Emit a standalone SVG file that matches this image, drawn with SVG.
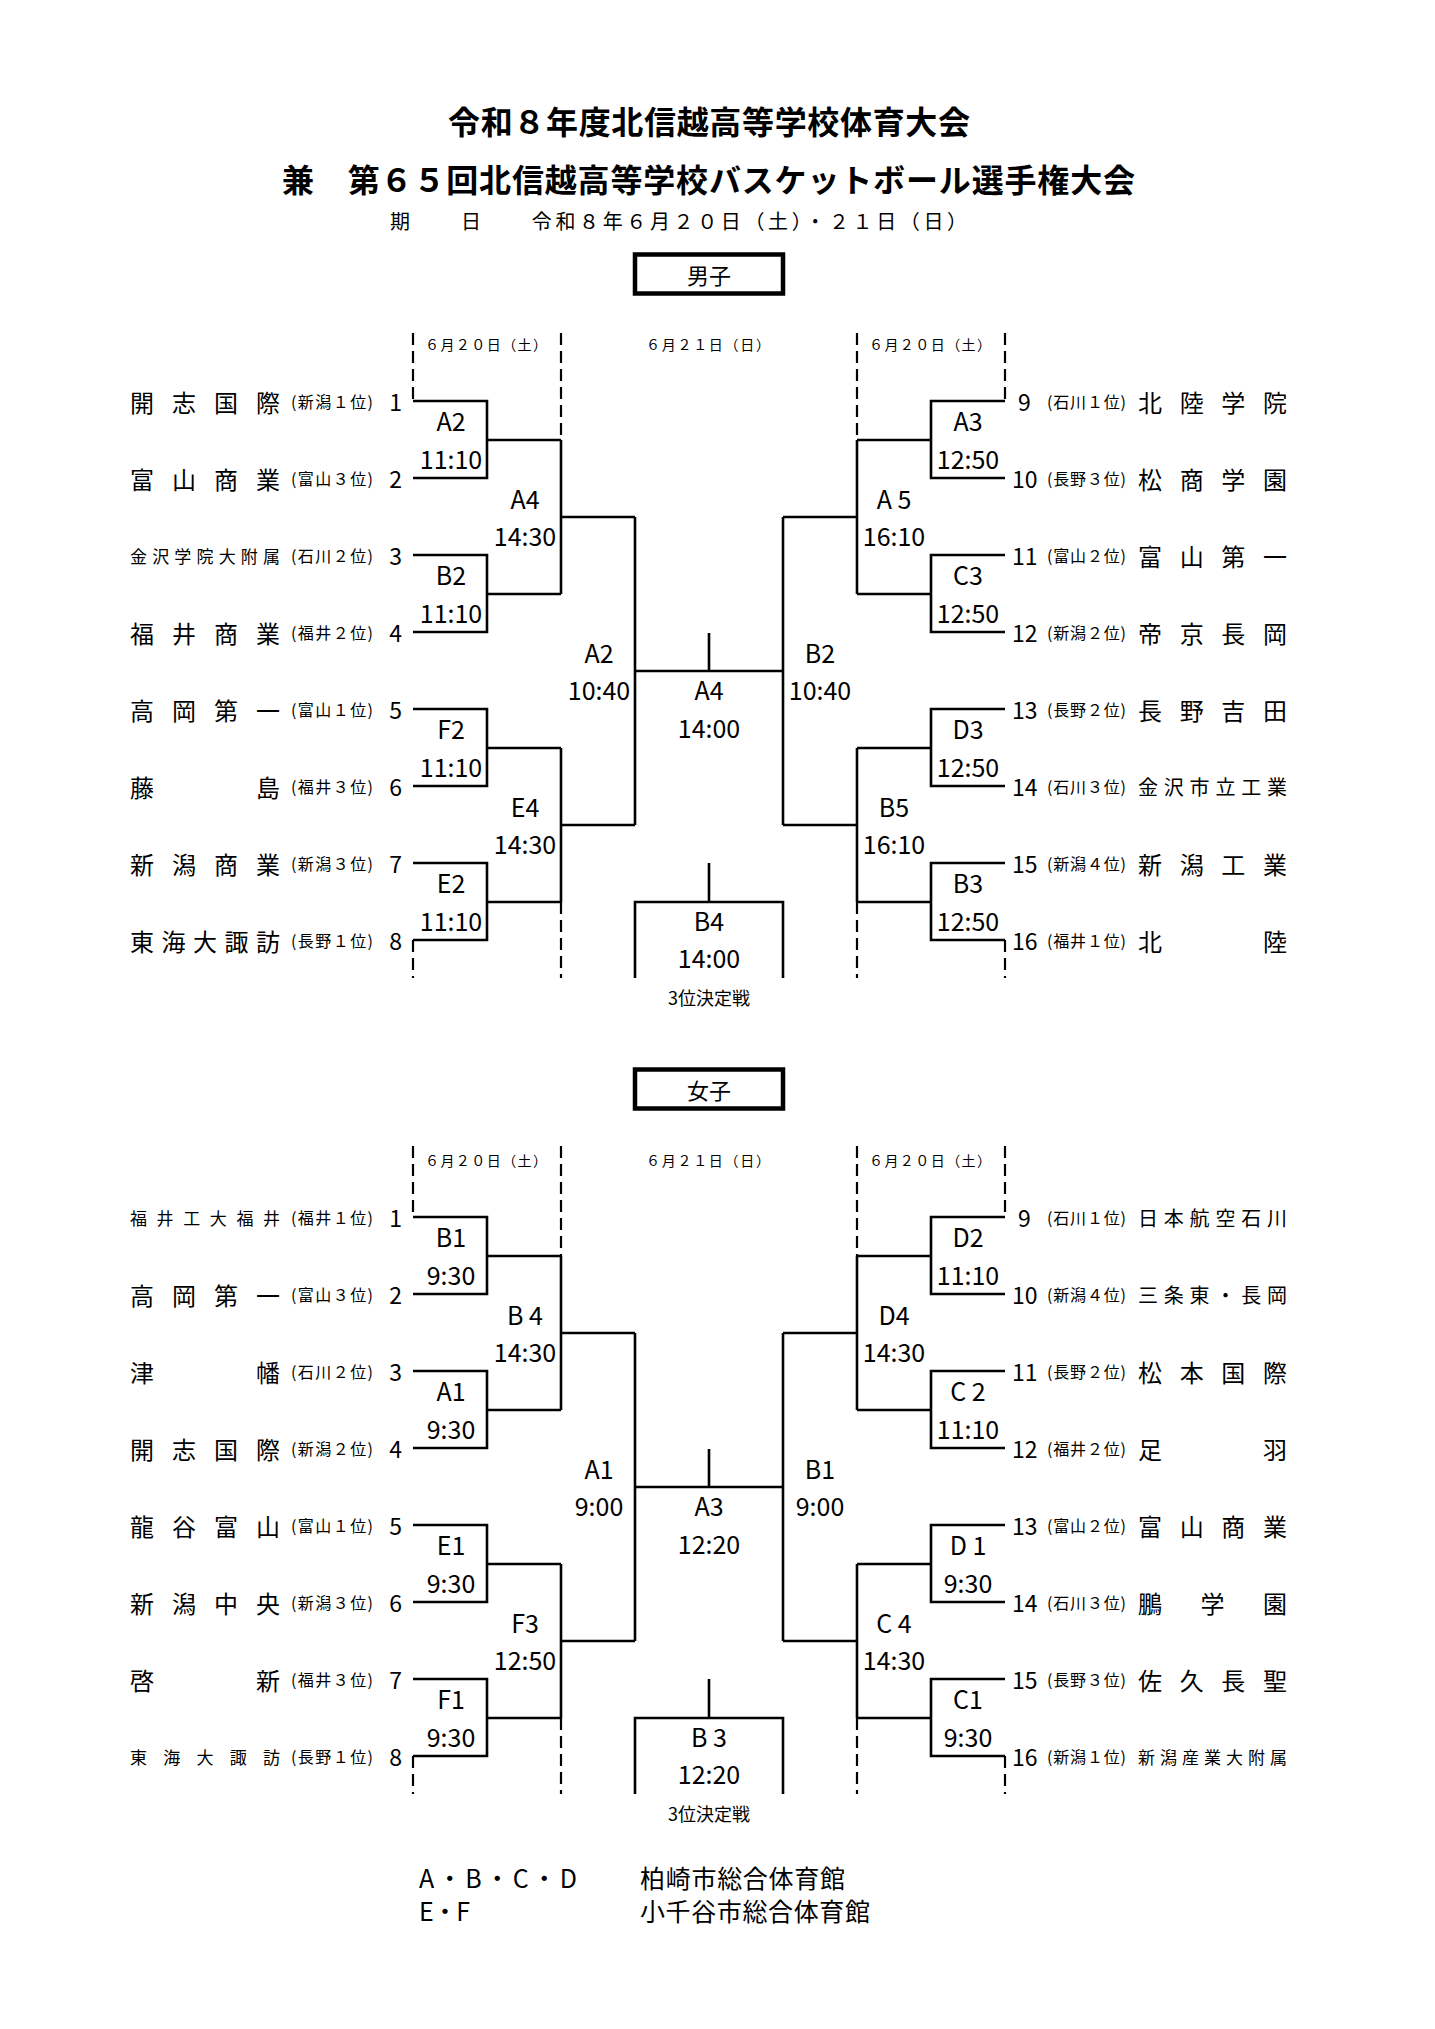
<svg xmlns="http://www.w3.org/2000/svg" width="1435" height="2029" viewBox="0 0 1435 2029">
<style>
text{font-family:"Noto Sans CJK JP","Noto Sans CJK SC",sans-serif;fill:#000;dominant-baseline:central}
.ttl{font-size:32px;font-weight:700}
.sub{font-size:20px}
.nm{font-size:24px}
.sn{font-size:17px}
.mn{font-size:20px}
.sd{font-size:16px}
.nl{font-size:23px;text-anchor:end}
.nr{font-size:23px}
.lb{font-size:25px;text-anchor:middle}
.dt{font-size:14px}
.sx{font-size:22px;text-anchor:middle}
.tp{font-size:18px;text-anchor:middle}
.ft{font-size:25px}
.ln{stroke:#000;stroke-width:2.6;fill:none}
.ds{stroke:#000;stroke-width:2.2;fill:none;stroke-dasharray:12 6}
.bx{stroke:#000;stroke-width:4.5;fill:none}
</style>
<rect width="1435" height="2029" fill="#fff"/>
<g id="header">
<text class="ttl" x="448" y="120" textLength="522" lengthAdjust="spacing">令和８年度北信越高等学校体育大会</text>
<text class="ttl" x="282" y="178" textLength="853" lengthAdjust="spacing">兼　第６５回北信越高等学校バスケットボール選手権大会</text>
<text class="sub" x="390" y="220" textLength="577" lengthAdjust="spacing">期　　日　　令和８年６月２０日（土）・２１日（日）</text>
</g>
<g id="men-box"><rect class="bx" x="635" y="254.5" width="148" height="39"/><text class="sx" x="709" y="274">男子</text></g>
<g id="women-box"><rect class="bx" x="635" y="1069.5" width="148" height="39"/><text class="sx" x="709" y="1089">女子</text></g>

<g id="connectors">
<path class="ds" d="M413,333V401M561,333V440M857,333V440M1005,333V401M413,940V978M561,902V978M857,902V978M1005,940V978"/>
<path class="ln" d="M413,401H487V478H413M487,440H561M413,555H487V632H413M487,594H561M561,440V594M561,517H635"/>
<path class="ln" d="M413,709H487V786H413M487,748H561M413,863H487V940H413M487,902H561M561,748V902M561,825H635"/>
<path class="ln" d="M635,517V825M783,517V825M635,671H783M709,633V671M635,978V902H783V978M709,863V902"/>
<path class="ln" d="M1005,401H931V478H1005M931,440H857M1005,555H931V632H1005M931,594H857M857,440V594M857,517H783"/>
<path class="ln" d="M1005,709H931V786H1005M931,748H857M1005,863H931V940H1005M931,902H857M857,748V902M857,825H783"/>
<g transform="translate(0,816)">
<path class="ds" d="M413,330V401M561,330V440M857,330V440M1005,330V401M413,940V978M561,902V978M857,902V978M1005,940V978"/>
<path class="ln" d="M413,401H487V478H413M487,440H561M413,555H487V632H413M487,594H561M561,440V594M561,517H635"/>
<path class="ln" d="M413,709H487V786H413M487,748H561M413,863H487V940H413M487,902H561M561,748V902M561,825H635"/>
<path class="ln" d="M635,517V825M783,517V825M635,671H783M709,633V671M635,978V902H783V978M709,863V902"/>
<path class="ln" d="M1005,401H931V478H1005M931,440H857M1005,555H931V632H1005M931,594H857M857,440V594M857,517H783"/>
<path class="ln" d="M1005,709H931V786H1005M931,748H857M1005,863H931V940H1005M931,902H857M857,748V902M857,825H783"/>
</g>
</g>

<g id="men-dates">
<text class="dt" x="425" y="344" textLength="122">６月２０日（土）</text>
<text class="dt" x="646" y="344" textLength="124">６月２１日（日）</text>
<text class="dt" x="869" y="344" textLength="122">６月２０日（土）</text>
</g>
<g id="women-dates">
<text class="dt" x="425" y="1160" textLength="122">６月２０日（土）</text>
<text class="dt" x="646" y="1160" textLength="124">６月２１日（日）</text>
<text class="dt" x="869" y="1160" textLength="122">６月２０日（土）</text>
</g>

<g id="m-t1"><text class="nm" x="130 172 214 256" y="401">開志国際</text><text class="sd" x="291" y="401" textLength="82">(新潟１位)</text><text class="nl" x="402" y="401">1</text></g>
<g id="m-t2"><text class="nm" x="130 172 214 256" y="478">富山商業</text><text class="sd" x="291" y="478" textLength="82">(富山３位)</text><text class="nl" x="402" y="478">2</text></g>
<g id="m-t3"><text class="sn" x="130 152.2 174.3 196.5 218.7 240.8 263" y="555">金沢学院大附属</text><text class="sd" x="291" y="555" textLength="82">(石川２位)</text><text class="nl" x="402" y="555">3</text></g>
<g id="m-t4"><text class="nm" x="130 172 214 256" y="632">福井商業</text><text class="sd" x="291" y="632" textLength="82">(福井２位)</text><text class="nl" x="402" y="632">4</text></g>
<g id="m-t5"><text class="nm" x="130 172 214 256" y="709">高岡第一</text><text class="sd" x="291" y="709" textLength="82">(富山１位)</text><text class="nl" x="402" y="709">5</text></g>
<g id="m-t6"><text class="nm" x="130 256" y="786">藤島</text><text class="sd" x="291" y="786" textLength="82">(福井３位)</text><text class="nl" x="402" y="786">6</text></g>
<g id="m-t7"><text class="nm" x="130 172 214 256" y="863">新潟商業</text><text class="sd" x="291" y="863" textLength="82">(新潟３位)</text><text class="nl" x="402" y="863">7</text></g>
<g id="m-t8"><text class="nm" x="130 161.5 193 224.5 256" y="940">東海大諏訪</text><text class="sd" x="291" y="940" textLength="82">(長野１位)</text><text class="nl" x="402" y="940">8</text></g>
<g id="m-t9"><text class="nr" x="1018" y="401">9</text><text class="sd" x="1047" y="401" textLength="79">(石川１位)</text><text class="nm" x="1138 1179.7 1221.3 1263" y="401">北陸学院</text></g>
<g id="m-t10"><text class="nr" x="1012" y="478">10</text><text class="sd" x="1047" y="478" textLength="79">(長野３位)</text><text class="nm" x="1138 1179.7 1221.3 1263" y="478">松商学園</text></g>
<g id="m-t11"><text class="nr" x="1012" y="555">11</text><text class="sd" x="1047" y="555" textLength="79">(富山２位)</text><text class="nm" x="1138 1179.7 1221.3 1263" y="555">富山第一</text></g>
<g id="m-t12"><text class="nr" x="1012" y="632">12</text><text class="sd" x="1047" y="632" textLength="79">(新潟２位)</text><text class="nm" x="1138 1179.7 1221.3 1263" y="632">帝京長岡</text></g>
<g id="m-t13"><text class="nr" x="1012" y="709">13</text><text class="sd" x="1047" y="709" textLength="79">(長野２位)</text><text class="nm" x="1138 1179.7 1221.3 1263" y="709">長野吉田</text></g>
<g id="m-t14"><text class="nr" x="1012" y="786">14</text><text class="sd" x="1047" y="786" textLength="79">(石川３位)</text><text class="mn" x="1138 1163.8 1189.6 1215.4 1241.2 1267" y="786">金沢市立工業</text></g>
<g id="m-t15"><text class="nr" x="1012" y="863">15</text><text class="sd" x="1047" y="863" textLength="79">(新潟４位)</text><text class="nm" x="1138 1179.7 1221.3 1263" y="863">新潟工業</text></g>
<g id="m-t16"><text class="nr" x="1012" y="940">16</text><text class="sd" x="1047" y="940" textLength="79">(福井１位)</text><text class="nm" x="1138 1263" y="940">北陸</text></g>

<g id="m-A2r1"><text class="lb" x="451" y="420">A2</text><text class="lb" x="451" y="458">11:10</text></g>
<g id="m-B2r1"><text class="lb" x="451" y="574">B2</text><text class="lb" x="451" y="612">11:10</text></g>
<g id="m-F2"><text class="lb" x="451" y="728">F2</text><text class="lb" x="451" y="766">11:10</text></g>
<g id="m-E2"><text class="lb" x="451" y="882">E2</text><text class="lb" x="451" y="920">11:10</text></g>
<g id="m-A4r2"><text class="lb" x="525" y="498">A4</text><text class="lb" x="525" y="535">14:30</text></g>
<g id="m-E4"><text class="lb" x="525" y="806">E4</text><text class="lb" x="525" y="843">14:30</text></g>
<g id="m-A2sf"><text class="lb" x="599" y="652">A2</text><text class="lb" x="599" y="689">10:40</text></g>
<g id="m-B2sf"><text class="lb" x="820" y="652">B2</text><text class="lb" x="820" y="689">10:40</text></g>
<g id="m-A4f"><text class="lb" x="709" y="689">A4</text><text class="lb" x="709" y="727">14:00</text></g>
<g id="m-B4"><text class="lb" x="709" y="920">B4</text><text class="lb" x="709" y="957">14:00</text><text class="tp" x="709" y="997">3位決定戦</text></g>
<g id="m-A3"><text class="lb" x="968" y="420">A3</text><text class="lb" x="968" y="458">12:50</text></g>
<g id="m-C3"><text class="lb" x="968" y="574">C3</text><text class="lb" x="968" y="612">12:50</text></g>
<g id="m-D3"><text class="lb" x="968" y="728">D3</text><text class="lb" x="968" y="766">12:50</text></g>
<g id="m-B3"><text class="lb" x="968" y="882">B3</text><text class="lb" x="968" y="920">12:50</text></g>
<g id="m-A5"><text class="lb" x="894" y="498">A 5</text><text class="lb" x="894" y="535">16:10</text></g>
<g id="m-B5"><text class="lb" x="894" y="806">B5</text><text class="lb" x="894" y="843">16:10</text></g>

<g id="w-t1"><text class="sn" x="130 156.6 183.2 209.8 236.4 263" y="1217">福井工大福井</text><text class="sd" x="291" y="1217" textLength="82">(福井１位)</text><text class="nl" x="402" y="1217">1</text></g>
<g id="w-t2"><text class="nm" x="130 172 214 256" y="1294">高岡第一</text><text class="sd" x="291" y="1294" textLength="82">(富山３位)</text><text class="nl" x="402" y="1294">2</text></g>
<g id="w-t3"><text class="nm" x="130 256" y="1371">津幡</text><text class="sd" x="291" y="1371" textLength="82">(石川２位)</text><text class="nl" x="402" y="1371">3</text></g>
<g id="w-t4"><text class="nm" x="130 172 214 256" y="1448">開志国際</text><text class="sd" x="291" y="1448" textLength="82">(新潟２位)</text><text class="nl" x="402" y="1448">4</text></g>
<g id="w-t5"><text class="nm" x="130 172 214 256" y="1525">龍谷富山</text><text class="sd" x="291" y="1525" textLength="82">(富山１位)</text><text class="nl" x="402" y="1525">5</text></g>
<g id="w-t6"><text class="nm" x="130 172 214 256" y="1602">新潟中央</text><text class="sd" x="291" y="1602" textLength="82">(新潟３位)</text><text class="nl" x="402" y="1602">6</text></g>
<g id="w-t7"><text class="nm" x="130 256" y="1679">啓新</text><text class="sd" x="291" y="1679" textLength="82">(福井３位)</text><text class="nl" x="402" y="1679">7</text></g>
<g id="w-t8"><text class="sn" x="130 163.25 196.5 229.75 263" y="1756">東海大諏訪</text><text class="sd" x="291" y="1756" textLength="82">(長野１位)</text><text class="nl" x="402" y="1756">8</text></g>
<g id="w-t9"><text class="nr" x="1018" y="1217">9</text><text class="sd" x="1047" y="1217" textLength="79">(石川１位)</text><text class="mn" x="1138 1163.8 1189.6 1215.4 1241.2 1267" y="1217">日本航空石川</text></g>
<g id="w-t10"><text class="nr" x="1012" y="1294">10</text><text class="sd" x="1047" y="1294" textLength="79">(新潟４位)</text><text class="mn" x="1138 1163.8 1189.6 1215.4 1241.2 1267" y="1294">三条東・長岡</text></g>
<g id="w-t11"><text class="nr" x="1012" y="1371">11</text><text class="sd" x="1047" y="1371" textLength="79">(長野２位)</text><text class="nm" x="1138 1179.7 1221.3 1263" y="1371">松本国際</text></g>
<g id="w-t12"><text class="nr" x="1012" y="1448">12</text><text class="sd" x="1047" y="1448" textLength="79">(福井２位)</text><text class="nm" x="1138 1263" y="1448">足羽</text></g>
<g id="w-t13"><text class="nr" x="1012" y="1525">13</text><text class="sd" x="1047" y="1525" textLength="79">(富山２位)</text><text class="nm" x="1138 1179.7 1221.3 1263" y="1525">富山商業</text></g>
<g id="w-t14"><text class="nr" x="1012" y="1602">14</text><text class="sd" x="1047" y="1602" textLength="79">(石川３位)</text><text class="nm" x="1138 1200.5 1263" y="1602">鵬学園</text></g>
<g id="w-t15"><text class="nr" x="1012" y="1679">15</text><text class="sd" x="1047" y="1679" textLength="79">(長野３位)</text><text class="nm" x="1138 1179.7 1221.3 1263" y="1679">佐久長聖</text></g>
<g id="w-t16"><text class="nr" x="1012" y="1756">16</text><text class="sd" x="1047" y="1756" textLength="79">(新潟１位)</text><text class="sn" x="1138 1160 1182 1204 1226 1248 1270" y="1756">新潟産業大附属</text></g>

<g id="w-B1r1"><text class="lb" x="451" y="1236">B1</text><text class="lb" x="451" y="1274">9:30</text></g>
<g id="w-A1r1"><text class="lb" x="451" y="1390">A1</text><text class="lb" x="451" y="1428">9:30</text></g>
<g id="w-E1"><text class="lb" x="451" y="1544">E1</text><text class="lb" x="451" y="1582">9:30</text></g>
<g id="w-F1"><text class="lb" x="451" y="1698">F1</text><text class="lb" x="451" y="1736">9:30</text></g>
<g id="w-B4"><text class="lb" x="525" y="1314">B 4</text><text class="lb" x="525" y="1351">14:30</text></g>
<g id="w-F3"><text class="lb" x="525" y="1622">F3</text><text class="lb" x="525" y="1659">12:50</text></g>
<g id="w-A1sf"><text class="lb" x="599" y="1468">A1</text><text class="lb" x="599" y="1505">9:00</text></g>
<g id="w-B1sf"><text class="lb" x="820" y="1468">B1</text><text class="lb" x="820" y="1505">9:00</text></g>
<g id="w-A3"><text class="lb" x="709" y="1505">A3</text><text class="lb" x="709" y="1543">12:20</text></g>
<g id="w-B3"><text class="lb" x="709" y="1736">B 3</text><text class="lb" x="709" y="1773">12:20</text><text class="tp" x="709" y="1813">3位決定戦</text></g>
<g id="w-D2"><text class="lb" x="968" y="1236">D2</text><text class="lb" x="968" y="1274">11:10</text></g>
<g id="w-C2"><text class="lb" x="968" y="1390">C 2</text><text class="lb" x="968" y="1428">11:10</text></g>
<g id="w-D1"><text class="lb" x="968" y="1544">D 1</text><text class="lb" x="968" y="1582">9:30</text></g>
<g id="w-C1"><text class="lb" x="968" y="1698">C1</text><text class="lb" x="968" y="1736">9:30</text></g>
<g id="w-D4"><text class="lb" x="894" y="1314">D4</text><text class="lb" x="894" y="1351">14:30</text></g>
<g id="w-C4"><text class="lb" x="894" y="1622">C 4</text><text class="lb" x="894" y="1659">14:30</text></g>

<g id="footer">
<text class="ft" x="419" y="1877" textLength="158">A・B・C・D</text>
<text class="ft" x="419" y="1910" textLength="51">E・F</text>
<text class="ft" x="640" y="1877" textLength="205">柏崎市総合体育館</text>
<text class="ft" x="640" y="1910" textLength="230">小千谷市総合体育館</text>
</g>
</svg>
